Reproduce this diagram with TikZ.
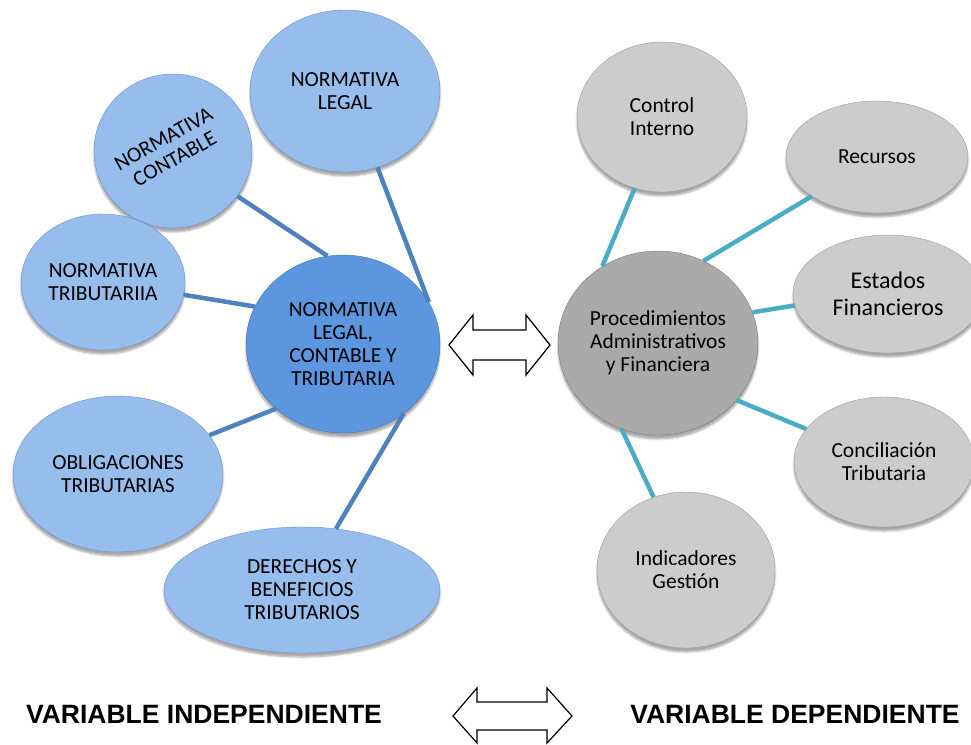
\documentclass[tikz,border=0pt]{standalone}
\usepackage{fontspec}
\setmainfont{Carlito}
\newfontfamily\arialfont{Liberation Sans}
\usetikzlibrary{shapes.geometric,shadows.blur}
\definecolor{lbA}{RGB}{151,189,236}
\definecolor{lbR}{RGB}{105,145,200}
\definecolor{lbC}{RGB}{91,150,222}
\definecolor{lbCR}{RGB}{66,116,186}
\definecolor{gA}{RGB}{204,204,204}
\definecolor{gR}{RGB}{155,155,155}
\definecolor{gC}{RGB}{170,170,170}
\definecolor{gCR}{RGB}{125,125,125}
\definecolor{lineL}{RGB}{79,129,189}
\definecolor{lineR}{RGB}{75,172,198}
\pgfdeclareradialshading{shLB}{\pgfpoint{0bp}{0bp}}{color(0bp)=(lbA); color(44bp)=(lbA); color(50bp)=(lbR)}
\pgfdeclareradialshading{shLC}{\pgfpoint{0bp}{0bp}}{color(0bp)=(lbC); color(44bp)=(lbC); color(50bp)=(lbCR)}
\pgfdeclareradialshading{shGA}{\pgfpoint{0bp}{0bp}}{color(0bp)=(gA); color(44bp)=(gA); color(50bp)=(gR)}
\pgfdeclareradialshading{shGC}{\pgfpoint{0bp}{0bp}}{color(0bp)=(gC); color(44bp)=(gC); color(50bp)=(gCR)}
\tikzset{
  bubble/.style={ellipse, inner sep=0pt, align=center,
    font=\fontsize{21.5}{23}\selectfont,
    blur shadow={shadow xshift=0pt, shadow yshift=-4pt, shadow opacity=35, shadow blur steps=6}},
  lbo/.style={bubble, shade, shading=shLB, draw=lbR, line width=0.4pt},
  lbc/.style={bubble, shade, shading=shLC, draw=lbCR, line width=0.4pt},
  gro/.style={bubble, shade, shading=shGA, draw=gR, line width=0.4pt},
  grc/.style={bubble, shade, shading=shGC, draw=gCR, line width=0.4pt},
  lconn/.style={draw=lineL, line width=4.5pt},
  rconn/.style={draw=lineR, line width=4.5pt},
  dblarrow/.style={draw=black, fill=white, line width=1.2pt},
  varlabel/.style={anchor=base, font=\arialfont\bfseries\fontsize{26.5}{30}\selectfont}
}
\begin{document}
\begin{tikzpicture}[x=1pt,y=-1pt]
\useasboundingbox (0,0) rectangle (971,744);
% left side
\node[lbo, minimum width=190pt, minimum height=162pt] (nl) at (345,91) {NORMATIVA\\LEGAL};
\node[lbo, minimum width=158pt, minimum height=154pt] (nc) at (173,151) {};
\node[rotate=29, align=center, font=\fontsize{21.5}{23}\selectfont] (nct) at (169,149) {NORMATIVA\\CONTABLE};
\node[lbo, minimum width=164pt, minimum height=136pt] (nt) at (103,282) {NORMATIVA\\TRIBUTARIIA};
\node[lbc, minimum width=194pt, minimum height=178pt] (cl) at (343,344) {NORMATIVA\\LEGAL,\\CONTABLE Y\\TRIBUTARIA};
\node[lbo, minimum width=210pt, minimum height=156pt] (ob) at (118,474) {OBLIGACIONES\\TRIBUTARIAS};
\node[lbo, minimum width=276pt, minimum height=126pt] (de) at (302,590) {DERECHOS Y\\BENEFICIOS\\TRIBUTARIOS};
\draw[lconn] (nl.-67.7) -- (cl.26.3);
\draw[lconn] (nc.-35.3) -- (cl.100.2);
\draw[lconn] (nt.-9.7) -- (cl.157.2);
\draw[lconn] (ob.23) -- (cl.224.6);
\draw[lconn] (de.61) -- (cl.-49.8);
% right side
\node[gro, minimum width=170pt, minimum height=150pt] (ci) at (662,117) {Control\\Interno};
\node[gro, minimum width=182pt, minimum height=112pt] (re) at (877,157) {Recursos};
\node[gro, minimum width=190pt, minimum height=118pt, font=\fontsize{24}{27}\selectfont] (ef) at (888,294) {Estados\\Financieros};
\node[grc, minimum width=200pt, minimum height=184pt] (cr) at (658,343) {Procedimientos\\Administrativos\\y Financiera};
\node[gro, minimum width=180pt, minimum height=130pt] (co) at (884,462) {Conciliación\\Tributaria};
\node[gro, minimum width=178pt, minimum height=156pt] (in) at (686,570) {Indicadores\\Gestión};
\draw[rconn] (ci.-111) -- (cr.126.4);
\draw[rconn] (re.211.5) -- (cr.61.5);
\draw[rconn] (ef.187) -- (cr.18);
\draw[rconn] (co.157.4) -- (cr.-36.4);
\draw[rconn] (in.114.3) -- (cr.-113.6);
% double arrows
\draw[dblarrow] (449,345) -- (473,315) -- (473,330) -- (526,330) -- (526,315) -- (550,345)
  -- (526,375) -- (526,360) -- (473,360) -- (473,375) -- cycle;
\draw[dblarrow] (453,716) -- (477,688) -- (477,702) -- (547,702) -- (547,688) -- (572,716)
  -- (547,743) -- (547,730) -- (477,730) -- (477,743) -- cycle;
% labels
\node[varlabel] (vi) at (204,723) {VARIABLE INDEPENDIENTE};
\node[varlabel] (vd) at (795,723) {VARIABLE DEPENDIENTE};
\end{tikzpicture}
\end{document}
